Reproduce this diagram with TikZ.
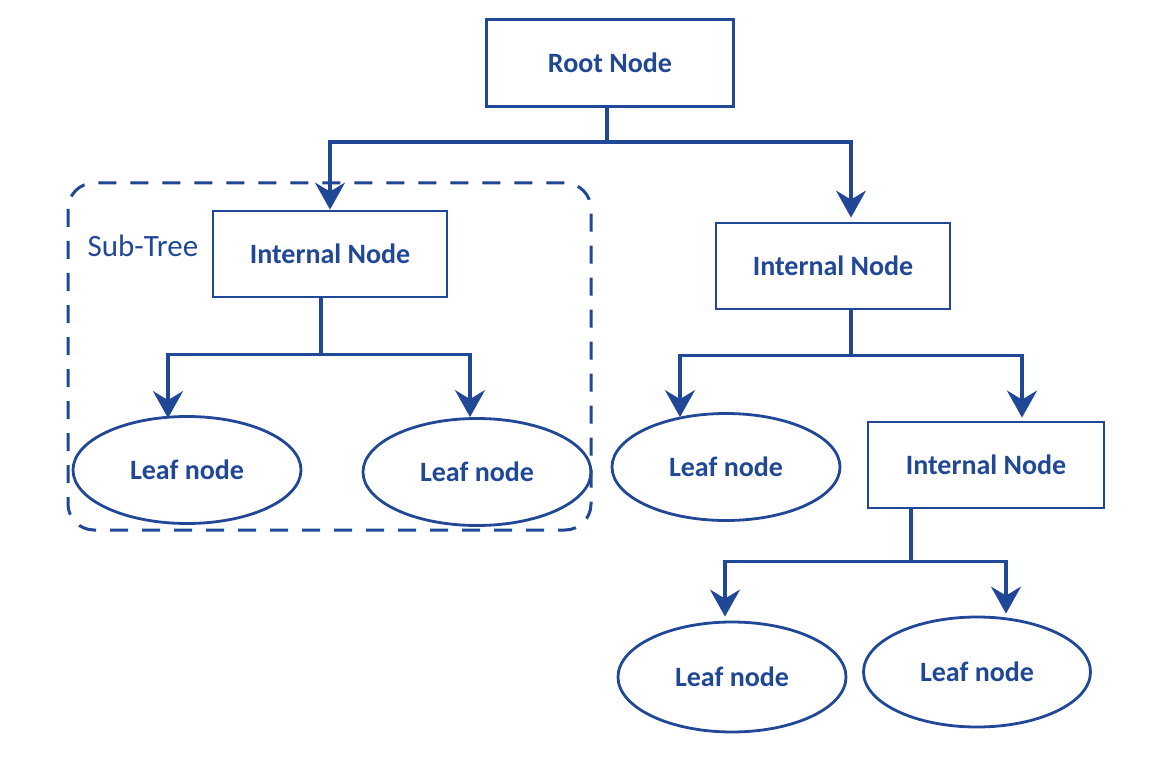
\documentclass[tikz,border=0pt]{standalone}
\usepackage{fontspec}
\setmainfont{Carlito}
\usetikzlibrary{arrows.meta,calc,shapes.geometric}
\definecolor{treeblue}{RGB}{33,72,150}
\begin{document}
\begin{tikzpicture}[x=1pt,y=-1pt,
  every node/.style={text=treeblue},
  boxnode/.style={draw=treeblue, line width=2.8pt, rectangle, minimum width=234pt, minimum height=86pt, inner sep=0pt, font=\fontsize{28}{31}\selectfont\bfseries},
  leafnode/.style={draw=treeblue, line width=2.8pt, ellipse, minimum width=228pt, minimum height=107pt, inner sep=0pt, font=\fontsize{28}{31}\selectfont\bfseries},
  link/.style={draw=treeblue, line width=3.3pt},
  arr/.style={link, -{Stealth[length=27pt, width=30pt, inset=9pt]}},
  subtree/.style={draw=treeblue, line width=3pt, dash pattern=on 18pt off 14pt, rounded corners=26pt}
]
\useasboundingbox (0,0) rectangle (1157,762);
\fill[white] (0,0) rectangle (1157,762);

% sub-tree frame
\draw[subtree] (68,183) rectangle (591,530);
\node[anchor=west, font=\fontsize{31}{34}\selectfont] (sublabel) at (84,246) {Sub-Tree};

% nodes
\node[boxnode, minimum width=247pt, minimum height=87pt] (root) at (610,63) {Root Node};
\node[boxnode] (int1) at (330,254) {Internal Node};
\node[boxnode] (int2) at (833,266) {Internal Node};
\node[boxnode, minimum width=236pt] (int3) at (986,465) {Internal Node};
\node[leafnode] (leaf1) at (187,470) {Leaf node};
\node[leafnode] (leaf2) at (477,472) {Leaf node};
\node[leafnode] (leaf3) at (726,467) {Leaf node};
\node[leafnode, minimum height=110pt] (leaf4) at (732,677) {Leaf node};
\node[leafnode, minimum width=227pt, minimum height=110pt] (leaf5) at (977,672) {Leaf node};

% junctions
\coordinate (j0) at ($(root.south)+(-3,34)$);
\coordinate (j1) at ($(int1.south)+(-9,56)$);
\coordinate (j2) at ($(int2.south)+(18,45)$);
\coordinate (j3) at ($(int3.south)+(-75,52)$);

% target points
\coordinate (t1) at ($(int1.north)+(0,0)$);
\coordinate (t2) at ($(int2.north)+(18,-4)$);
\coordinate (t11) at ($(leaf1.north)+(-19,3)$);
\coordinate (t12) at ($(leaf2.north)+(-7,0)$);
\coordinate (t21) at ($(leaf3.north)+(-46,5)$);
\coordinate (t22) at ($(int3.north)+(36,-3)$);
\coordinate (t31) at ($(leaf4.north)+(-7,-4)$);
\coordinate (t32) at ($(leaf5.north)+(29,-2)$);

% connectors
\draw[link] ($(root.south)+(-3,0)$) -- (j0);
\draw[arr] (j0) -| (t1);
\draw[arr] (j0) -| (t2);

\draw[link] ($(int1.south)+(-9,0)$) -- (j1);
\draw[arr] (j1) -| (t11);
\draw[arr] (j1) -| (t12);

\draw[link] ($(int2.south)+(18,0)$) -- (j2);
\draw[arr] (j2) -| (t21);
\draw[arr] (j2) -| (t22);

\draw[link] ($(int3.south)+(-75,0)$) -- (j3);
\draw[arr] (j3) -| (t31);
\draw[arr] (j3) -| (t32);
\end{tikzpicture}
\end{document}
